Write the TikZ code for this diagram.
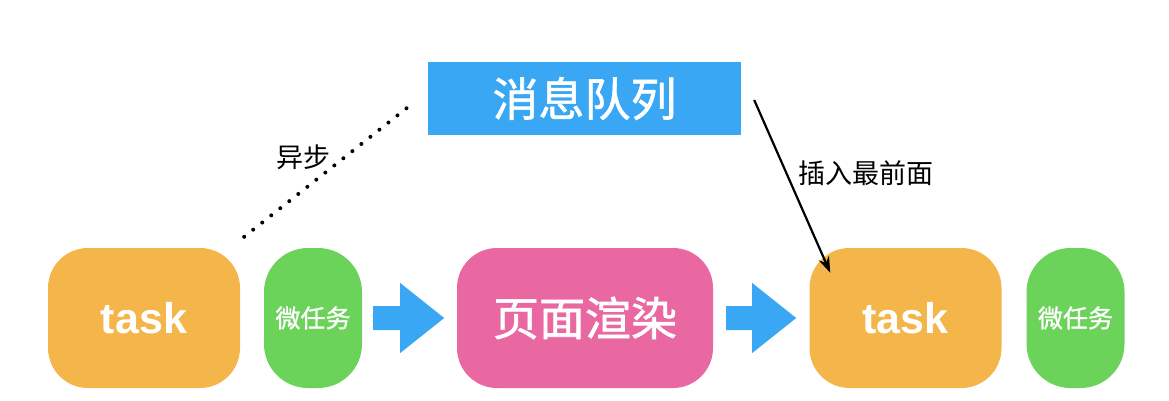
\documentclass[tikz,border=0pt]{standalone}
\usepackage{fontspec}
\setmainfont{Noto Sans CJK SC}
\newfontfamily\latinfont{Liberation Sans}
\newfontfamily\cjkmedium[FakeBold=1.2]{Noto Sans CJK SC}
\usetikzlibrary{arrows.meta,calc}
\definecolor{queueblue}{HTML}{39A7F3}
\definecolor{taskorange}{HTML}{F4B64B}
\definecolor{microgreen}{HTML}{6BD25A}
\definecolor{renderpink}{HTML}{E968A2}
\begin{document}
\begin{tikzpicture}[x=1pt, y=-1pt,
        % Rounded block styling
        block/.style={rounded corners=40pt, minimum height=140pt, inner sep=0pt, text=white, align=center},
        taskbox/.style={block, fill=taskorange, minimum width=192pt, font=\latinfont\bfseries\fontsize{43}{43}\selectfont},
        microbox/.style={block, fill=microgreen, minimum width=98pt, rounded corners=44pt, font=\cjkmedium\fontsize{25}{25}\selectfont},
        renderbox/.style={block, fill=renderpink, minimum width=256pt, font=\cjkmedium\fontsize{46}{46}\selectfont},
        % Plain label style
        label/.style={font=\fontsize{27}{27}\selectfont, inner sep=0pt},
        % Connector styles
        blockarrow/.style={fill=queueblue},
        arrow/.style={-{Stealth[length=16pt, width=11pt]}, line width=2.2pt}
    ]

    \useasboundingbox (0,0) rectangle (1169,400);

    % Message queue on top
    \node[fill=queueblue, minimum width=313pt, minimum height=73pt, inner sep=0pt, text=white, font=\cjkmedium\fontsize{46}{46}\selectfont] (queue) at (584.5,98.5) {消息队列};

    % Bottom row
    \node[taskbox] (task1) at (144,318) {task};
    \node[microbox] (micro1) at (313,318) {微任务};
    \node[renderbox] (render) at (585,318) {页面渲染};
    \node[taskbox] (task2) at (905.5,318) {task};
    \node[microbox] (micro2) at (1075.5,318) {微任务};

    % Block arrows between the row
    \fill[blockarrow] ($(micro1.east)+(11,-12)$) -- ++(27,0) -- ++(0,-23) -- ++(44,35) -- ++(-44,35) -- ++(0,-23) -- ++(-27,0) -- cycle;
    \fill[blockarrow] ($(render.east)+(13,-12)$) -- ++(26,0) -- ++(0,-23) -- ++(44,35) -- ++(-44,35) -- ++(0,-23) -- ++(-26,0) -- cycle;

    % Async dotted link
    \coordinate (asyncStart) at ($(task1.north east)+(4,-11)$);
    \coordinate (asyncEnd) at ($(queue.west)+(-21,9.5)$);
    \draw[line width=4pt, line cap=round, dash pattern=on 0pt off 11.5pt] (asyncStart) -- (asyncEnd);
    \node[label] (async) at (303,157) {异步};

    % Insert to front
    \coordinate (insertStart) at ($(queue.east)+(13,1.5)$);
    \coordinate (insertEnd) at ($(task2.north west)+(21,25)$);
    \draw[arrow] (insertStart) -- (insertEnd);
    \node[label] (insert) at (866,173) {插入最前面};

    \end{tikzpicture}
\end{document}
